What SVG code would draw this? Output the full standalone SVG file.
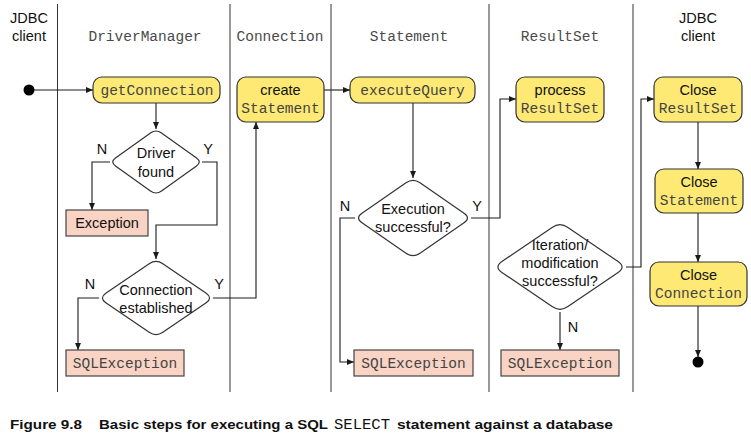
<svg xmlns="http://www.w3.org/2000/svg" width="751" height="437" viewBox="0 0 751 437">
<defs>
<marker id="ah" markerUnits="userSpaceOnUse" markerWidth="8" markerHeight="6" refX="7" refY="3" orient="auto">
<path d="M0,0 L7,3 L0,6 z" fill="#1a1a1a"/>
</marker>
</defs>
<style>
.bg{fill:#ffffff}
.lane{stroke:#333;stroke-width:1;fill:none}
.act{fill:#fde974;stroke:#333;stroke-width:1.2}
.exc{fill:#f9d4c4;stroke:#444;stroke-width:1.2}
.dec{fill:#ffffff;stroke:#333;stroke-width:1.2}
.conn{fill:none;stroke:#1a1a1a;stroke-width:1.1;marker-end:url(#ah)}
.sans{font-family:"Liberation Sans",Arial,sans-serif;font-size:14.5px;fill:#111;text-anchor:middle}
.mono{font-family:"Liberation Mono","Courier New",monospace;font-size:14.5px;fill:#444;text-anchor:middle}
.hdr{font-family:"Liberation Mono","Courier New",monospace;font-size:14.5px;fill:#4a4a4a;text-anchor:middle}
.cap{font-family:"Liberation Sans",Arial,sans-serif;font-size:13px;font-weight:bold;fill:#111}
.capm{font-family:"Liberation Mono","Courier New",monospace;font-size:14px;fill:#111}
</style>
<rect class="bg" x="0" y="0" width="751" height="437"/>

<g id="lanes">
<line class="lane" x1="57.5" y1="4" x2="57.5" y2="392"/>
<line class="lane" x1="230" y1="4" x2="230" y2="392"/>
<line class="lane" x1="331" y1="4" x2="331" y2="392"/>
<line class="lane" x1="489" y1="4" x2="489" y2="392"/>
<line class="lane" x1="633" y1="4" x2="633" y2="392"/>
</g>

<g id="headers">
<text class="sans" x="29" y="23">JDBC</text>
<text class="sans" x="29" y="41">client</text>
<text class="hdr" x="145" y="41">DriverManager</text>
<text class="hdr" x="280" y="41">Connection</text>
<text class="hdr" x="409" y="41">Statement</text>
<text class="hdr" x="560" y="41">ResultSet</text>
<text class="sans" x="698" y="23">JDBC</text>
<text class="sans" x="698" y="41">client</text>
</g>

<g id="connectors">
<line class="conn" x1="34" y1="90" x2="93" y2="90"/>
<line class="conn" x1="156" y1="103" x2="156" y2="129"/>
<polyline class="conn" points="110,162 92,162 92,210"/>
<polyline class="conn" points="202,162 217,162 217,225 156,225 156,259"/>
<polyline class="conn" points="99,298 78,298 78,350"/>
<polyline class="conn" points="213,298 256,298 256,122"/>
<line class="conn" x1="324" y1="90" x2="350" y2="90"/>
<line class="conn" x1="413" y1="103" x2="413" y2="178"/>
<polyline class="conn" points="471,218 500,218 500,99 516,99"/>
<polyline class="conn" points="355,218 340,218 340,362 354,362"/>
<polyline class="conn" points="626,267 641,267 641,99 654,99"/>
<line class="conn" x1="560" y1="312" x2="560" y2="350"/>
<line class="conn" x1="698" y1="122" x2="698" y2="169"/>
<line class="conn" x1="698" y1="213" x2="698" y2="262"/>
<line class="conn" x1="698" y1="306" x2="698" y2="357"/>
</g>

<g id="start">
<circle cx="29" cy="90" r="5.5" fill="#000"/>
</g>

<g id="getConnection">
<rect class="act" x="93" y="77" width="127" height="26" rx="9"/>
<text class="mono" x="157" y="95">getConnection</text>
</g>

<g id="driverFound">
<path class="dec" d="M161.5,133 L196.5,158 Q202,162 196.5,166 L161.5,191 Q156,195 150.5,191 L115.5,166 Q110,162 115.5,158 L150.5,133 Q156,129 161.5,133 Z"/>
<text class="sans" x="156" y="158">Driver</text>
<text class="sans" x="156" y="177">found</text>
<text class="sans" x="102" y="154">N</text>
<text class="sans" x="208" y="154">Y</text>
</g>

<g id="exception">
<rect class="exc" x="66" y="210" width="82" height="26"/>
<text class="sans" x="107" y="228">Exception</text>
</g>

<g id="connectionEstablished">
<path class="dec" d="M162.8,263.7 L206.2,293.3 Q213,298 206.2,302.7 L162.8,332.3 Q156,337 149.2,332.3 L105.8,302.7 Q99,298 105.8,293.3 L149.2,263.7 Q156,259 162.8,263.7 Z"/>
<text class="sans" x="156" y="295">Connection</text>
<text class="sans" x="156" y="313">established</text>
<text class="sans" x="90" y="289">N</text>
<text class="sans" x="219" y="289">Y</text>
</g>

<g id="sqlException1">
<rect class="exc" x="66" y="350" width="118" height="26"/>
<text class="mono" x="125" y="368">SQLException</text>
</g>

<g id="createStatement">
<rect class="act" x="237" y="77" width="87" height="45" rx="9"/>
<text class="sans" x="280.5" y="95">create</text>
<text class="mono" x="280.5" y="113">Statement</text>
</g>

<g id="executeQuery">
<rect class="act" x="350" y="77" width="125" height="26" rx="9"/>
<text class="mono" x="412.5" y="95">executeQuery</text>
</g>

<g id="executionSuccessful">
<path class="dec" d="M420,182.8 L464,213.2 Q471,218 464,222.8 L420,253.2 Q413,258 406,253.2 L362,222.8 Q355,218 362,213.2 L406,182.8 Q413,178 420,182.8 Z"/>
<text class="sans" x="413" y="214">Execution</text>
<text class="sans" x="413" y="232">successful?</text>
<text class="sans" x="345" y="211">N</text>
<text class="sans" x="477" y="211">Y</text>
</g>

<g id="sqlException2">
<rect class="exc" x="354" y="350" width="119" height="26"/>
<text class="mono" x="413.5" y="368">SQLException</text>
</g>

<g id="processResultSet">
<rect class="act" x="516" y="77" width="88" height="45" rx="9"/>
<text class="sans" x="560" y="95">process</text>
<text class="mono" x="560" y="113">ResultSet</text>
</g>

<g id="iterationSuccessful">
<path class="dec" d="M567.9,227.4 L618.1,261.6 Q626,267 618.1,272.4 L567.9,306.6 Q560,312 552.1,306.6 L501.9,272.4 Q494,267 501.9,261.6 L552.1,227.4 Q560,222 567.9,227.4 Z"/>
<text class="sans" x="560" y="250">Iteration/</text>
<text class="sans" x="560" y="268">modification</text>
<text class="sans" x="560" y="286">successful?</text>
<text class="sans" x="573" y="332">N</text>
</g>

<g id="sqlException3">
<rect class="exc" x="501" y="350" width="118" height="26"/>
<text class="mono" x="560" y="368">SQLException</text>
</g>

<g id="closeResultSet">
<rect class="act" x="654" y="77" width="88" height="45" rx="9"/>
<text class="sans" x="698" y="95">Close</text>
<text class="mono" x="698" y="113">ResultSet</text>
</g>

<g id="closeStatement">
<rect class="act" x="655" y="169" width="88" height="44" rx="9"/>
<text class="sans" x="699" y="187">Close</text>
<text class="mono" x="699" y="205">Statement</text>
</g>

<g id="closeConnection">
<rect class="act" x="650" y="262" width="97" height="44" rx="9"/>
<text class="sans" x="698.5" y="280">Close</text>
<text class="mono" x="698.5" y="298">Connection</text>
</g>

<g id="end">
<circle cx="698" cy="362" r="5.5" fill="#000"/>
</g>

<g id="caption">
<text class="cap" x="10" y="429" textLength="72" lengthAdjust="spacingAndGlyphs">Figure 9.8</text>
<text class="cap" x="99" y="429" textLength="229" lengthAdjust="spacingAndGlyphs">Basic steps for executing a SQL</text>
<text class="capm" x="334" y="429" textLength="56" lengthAdjust="spacingAndGlyphs">SELECT</text>
<text class="cap" x="397" y="429" textLength="216" lengthAdjust="spacingAndGlyphs">statement against a database</text>
</g>
</svg>
